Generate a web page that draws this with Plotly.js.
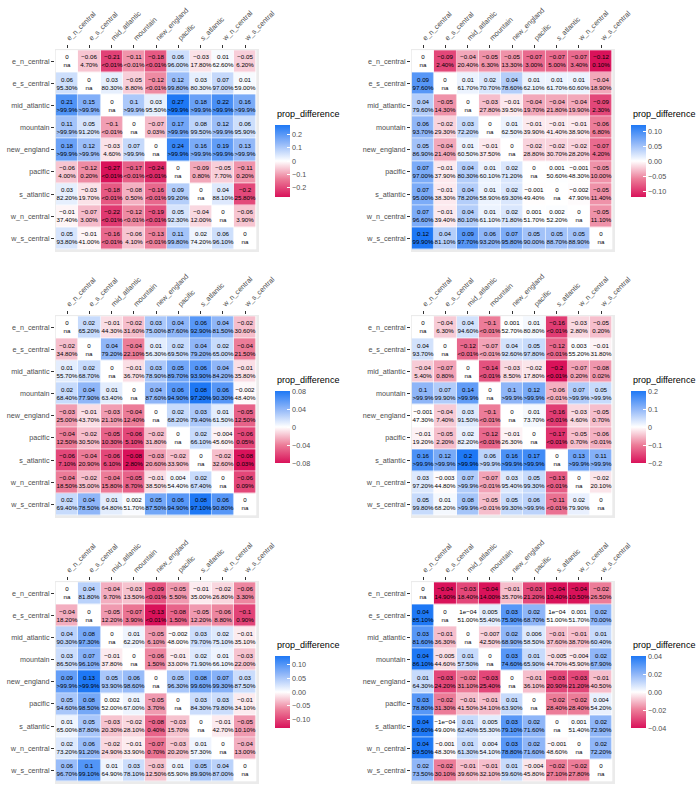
<!DOCTYPE html>
<html><head><meta charset="utf-8">
<script src="https://cdn.plot.ly/plotly-3.0.1.min.js"></script>
<style>body{margin:0;background:#fff}#c{width:700px;height:789px}</style>
</head><body><div id="c"></div>
<script>
const cats = ['e_n_central','e_s_central','mid_atlantic','mountain','new_england','pacific','s_atlantic','w_n_central','w_s_central'];

const p1_vals = [
 [0,-0.06,-0.21,-0.11,-0.18,0.06,-0.03,0.01,-0.05],
 [0.06,0,0.03,-0.05,-0.12,0.12,0.03,0.07,0.01],
 [0.21,0.15,0,0.1,0.03,0.27,0.18,0.22,0.16],
 [0.11,0.05,-0.1,0,-0.07,0.17,0.08,0.12,0.06],
 [0.18,0.12,-0.03,0.07,0,0.24,0.16,0.19,0.13],
 [-0.06,-0.12,-0.27,-0.17,-0.24,0,-0.09,-0.05,-0.11],
 [0.03,-0.03,-0.18,-0.08,-0.16,0.09,0,0.04,-0.2],
 [-0.01,-0.07,-0.22,-0.12,-0.19,0.05,-0.04,0,-0.06],
 [0.05,-0.01,-0.16,-0.06,-0.13,0.11,0.02,0.06,0]];
const p1_pct = [
 ['na','4.70%','<0.01%','<0.01%','<0.01%','96.00%','17.80%','62.60%','6.20%'],
 ['95.30%','na','80.30%','8.80%','<0.01%','99.80%','80.30%','97.00%','59.00%'],
 ['>99.9%','>99.9%','na','>99.9%','95.50%','>99.9%','>99.9%','>99.9%','>99.9%'],
 ['>99.9%','91.20%','<0.01%','na','0.03%','>99.9%','99.50%','>99.9%','95.90%'],
 ['>99.9%','>99.9%','4.60%','>99.9%','na','>99.9%','>99.9%','>99.9%','>99.9%'],
 ['4.00%','0.20%','<0.01%','<0.01%','<0.01%','na','0.80%','7.70%','0.20%'],
 ['82.20%','19.70%','<0.01%','0.50%','<0.01%','99.20%','na','88.10%','25.80%'],
 ['37.40%','3.00%','<0.01%','<0.01%','<0.01%','92.30%','12.00%','na','3.90%'],
 ['93.80%','41.00%','<0.01%','4.10%','<0.01%','99.80%','74.20%','96.10%','na']];

const p2_vals = [
 [0,-0.09,-0.04,-0.05,-0.05,-0.07,-0.07,-0.07,-0.12],
 [0.09,0,0.01,0.02,0.04,0.01,0.01,0.01,-0.04],
 [0.04,-0.05,0,-0.03,-0.01,-0.04,-0.04,-0.04,-0.09],
 [0.06,-0.02,0.03,0,0.01,-0.01,-0.01,-0.01,-0.06],
 [0.05,-0.04,0.01,-0.01,0,-0.02,-0.02,-0.02,-0.07],
 [0.07,-0.01,0.04,0.01,0.02,0,0.001,-0.001,-0.05],
 [0.07,-0.01,0.04,0.01,0.02,-0.001,0,-0.002,-0.05],
 [0.07,-0.01,0.04,0.01,0.02,0.001,0.002,0,-0.05],
 [0.12,0.04,0.09,0.06,0.07,0.05,0.05,0.05,0]];
const p2_pct = [
 ['na','2.40%','20.40%','6.30%','13.30%','3.00%','5.00%','3.40%','0.10%'],
 ['97.60%','na','61.70%','70.70%','78.60%','62.10%','61.70%','60.60%','18.90%'],
 ['79.60%','14.30%','na','27.80%','39.50%','19.70%','21.80%','19.90%','2.30%'],
 ['93.70%','29.30%','72.20%','na','62.50%','39.90%','41.40%','38.90%','6.80%'],
 ['86.90%','21.40%','60.50%','37.50%','na','28.80%','30.70%','28.20%','4.20%'],
 ['97.00%','37.90%','80.30%','60.10%','71.20%','na','50.60%','48.30%','10.00%'],
 ['95.00%','38.30%','78.20%','58.90%','69.30%','49.40%','na','47.90%','11.40%'],
 ['96.60%','39.40%','80.10%','61.10%','71.80%','51.70%','52.20%','na','11.10%'],
 ['99.90%','81.10%','97.70%','93.20%','95.80%','90.00%','88.70%','88.90%','na']];

const p3_vals = [
 [0,0.02,-0.01,-0.02,0.03,0.04,0.06,0.04,-0.02],
 [-0.02,0,0.04,-0.04,0.01,0.02,0.04,0.02,-0.04],
 [0.01,0.02,0,-0.01,0.03,0.05,0.06,0.04,-0.01],
 [0.02,0.04,0.01,0,0.04,0.06,0.08,0.06,-0.002],
 [-0.03,-0.01,-0.03,-0.04,0,0.02,0.03,0.01,-0.05],
 [-0.04,-0.02,-0.05,-0.06,-0.02,0,0.02,-0.004,-0.06],
 [-0.06,-0.04,-0.06,-0.08,-0.03,-0.02,0,-0.02,-0.08],
 [-0.04,-0.02,-0.04,-0.05,-0.01,0.004,0.02,0,-0.06],
 [0.02,0.04,0.01,0.002,0.05,0.06,0.08,0.06,0]];
const p3_pct = [
 ['na','65.20%','44.30%','31.60%','75.00%','87.60%','92.90%','81.50%','30.60%'],
 ['34.80%','na','79.20%','22.10%','56.30%','69.50%','79.20%','65.00%','21.50%'],
 ['55.70%','68.70%','na','36.70%','78.90%','89.70%','93.90%','84.20%','35.80%'],
 ['68.40%','77.90%','63.40%','na','87.60%','94.90%','97.20%','90.30%','48.40%'],
 ['25.00%','43.70%','21.10%','12.40%','na','68.20%','79.40%','61.50%','12.50%'],
 ['12.50%','30.50%','10.30%','5.10%','31.80%','na','66.10%','45.60%','0.05%'],
 ['7.10%','20.90%','6.10%','2.80%','20.60%','33.90%','na','32.60%','0.03%'],
 ['18.50%','35.00%','15.80%','8.70%','38.50%','54.40%','67.40%','na','0.09%'],
 ['69.40%','78.50%','64.80%','51.70%','87.50%','94.90%','97.10%','90.80%','na']];

const p4_vals = [
 [0,-0.04,0.04,-0.1,0.001,0.01,-0.16,-0.03,-0.05],
 [0.04,0,-0.12,-0.07,0.04,0.05,-0.12,0.003,-0.01],
 [-0.04,-0.07,0,-0.14,-0.03,-0.02,-0.2,-0.07,-0.08],
 [0.1,0.07,0.14,0,0.1,0.12,-0.06,0.07,0.05],
 [-0.001,-0.04,0.03,-0.1,0,0.01,-0.16,-0.03,-0.05],
 [-0.01,-0.05,0.02,-0.12,-0.01,0,-0.17,-0.05,-0.06],
 [0.16,0.12,0.2,0.06,0.16,0.17,0,0.13,0.11],
 [0.03,-0.003,0.07,-0.07,0.03,0.05,-0.13,0,-0.02],
 [0.05,0.01,0.08,-0.05,0.05,0.06,-0.11,0.02,0]];
const p4_pct = [
 ['na','6.30%','94.60%','<0.01%','52.70%','80.80%','<0.01%','2.80%','0.20%'],
 ['93.70%','na','<0.01%','<0.01%','92.60%','97.80%','<0.01%','55.20%','31.80%'],
 ['5.40%','0.80%','na','<0.01%','8.50%','17.80%','<0.01%','0.20%','0.02%'],
 ['>99.9%','99.90%','>99.9%','na','>99.9%','>99.9%','<0.01%','>99.9%','>99.9%'],
 ['47.30%','7.40%','91.50%','<0.01%','na','73.70%','<0.01%','4.60%','0.70%'],
 ['19.20%','2.20%','82.20%','<0.01%','26.30%','na','<0.01%','0.70%','<0.01%'],
 ['>99.9%','>99.9%','>99.9%','>99.9%','>99.9%','>99.9%','na','>99.9%','>99.9%'],
 ['97.20%','44.80%','>99.9%','<0.01%','95.40%','99.30%','<0.01%','na','20.10%'],
 ['99.80%','68.20%','>99.9%','<0.01%','99.30%','>99.9%','<0.01%','79.90%','na']];

const p5_vals = [
 [0,0.04,-0.04,-0.03,-0.09,-0.05,-0.01,-0.02,-0.06],
 [-0.04,0,-0.05,-0.07,-0.13,-0.08,-0.05,-0.06,-0.1],
 [0.04,0.08,0,0.01,-0.05,-0.002,0.03,0.02,-0.01],
 [0.03,0.07,-0.01,0,-0.06,-0.01,0.02,0.01,-0.03],
 [0.09,0.13,0.05,0.06,0,0.05,0.08,0.07,0.03],
 [0.05,0.08,0.002,0.01,-0.05,0,0.03,0.03,-0.01],
 [0.01,0.05,-0.03,-0.02,-0.08,-0.03,0,-0.01,-0.05],
 [0.02,0.06,-0.02,-0.01,-0.07,-0.03,0.01,0,-0.04],
 [0.06,0.1,0.01,0.03,-0.03,0.01,0.05,0.04,0]];
const p5_pct = [
 ['na','81.80%','9.70%','13.50%','<0.01%','5.50%','35.00%','26.80%','3.30%'],
 ['18.20%','na','12.20%','3.90%','<0.01%','1.50%','12.20%','8.80%','0.90%'],
 ['90.30%','97.30%','na','62.20%','6.10%','48.00%','79.70%','75.10%','35.10%'],
 ['86.50%','96.10%','37.80%','na','1.50%','33.00%','71.90%','66.10%','22.00%'],
 ['>99.9%','>99.9%','93.90%','98.60%','na','96.30%','99.60%','99.30%','87.50%'],
 ['94.60%','98.50%','52.00%','67.00%','3.70%','na','84.30%','79.80%','34.10%'],
 ['65.00%','87.80%','20.30%','28.10%','0.40%','15.70%','na','42.70%','10.10%'],
 ['73.20%','91.20%','24.90%','33.90%','0.70%','20.20%','57.30%','na','13.00%'],
 ['96.70%','99.10%','64.90%','78.10%','12.50%','65.90%','89.90%','87.00%','na']];

const p6_vals = [
 [0,-0.04,-0.03,-0.04,-0.01,-0.03,-0.04,-0.04,-0.02],
 [0.04,0,0.0001,0.005,0.03,0.02,0.0001,0.001,0.02],
 [0.03,-0.01,0,-0.007,0.02,0.006,-0.01,-0.01,0.01],
 [0.04,-0.005,0.01,0,0.03,0.01,-0.005,-0.004,0.02],
 [0.01,-0.03,-0.02,-0.03,0,-0.01,-0.03,-0.03,-0.01],
 [0.03,-0.02,-0.01,-0.01,0.01,0,-0.02,-0.02,0.004],
 [0.04,-0.0001,0.01,0.005,0.03,0.02,0,0.001,0.02],
 [0.04,-0.001,0.01,0.004,0.03,0.02,-0.001,0,0.02],
 [0.02,-0.02,-0.01,-0.01,0.01,-0.004,-0.02,-0.02,0]];
const p6_pct = [
 ['na','14.90%','18.40%','14.00%','35.70%','21.20%','10.40%','10.50%','26.50%'],
 ['85.10%','na','51.00%','55.40%','75.90%','68.70%','51.00%','51.70%','70.00%'],
 ['81.60%','36.30%','na','42.50%','68.90%','58.50%','37.60%','38.70%','60.40%'],
 ['86.10%','44.60%','57.50%','na','74.60%','65.90%','44.70%','45.90%','67.90%'],
 ['64.30%','24.20%','31.10%','25.40%','na','36.10%','20.90%','21.20%','40.50%'],
 ['78.80%','31.30%','41.50%','34.10%','63.90%','na','28.40%','28.40%','54.20%'],
 ['89.60%','49.00%','62.40%','55.30%','79.10%','71.60%','na','51.40%','72.90%'],
 ['89.50%','48.30%','61.30%','54.10%','78.80%','71.60%','48.60%','na','72.20%'],
 ['73.50%','30.10%','39.60%','32.10%','59.60%','45.80%','27.10%','27.80%','na']];

const legendTicks = [
 ['−0.2','−0.1','0','0.1','0.2'],
 ['−0.10','−0.05','0.00','0.05','0.10'],
 ['−0.08','−0.04','0','0.04','0.08'],
 ['−0.2','−0.1','0','0.1','0.2'],
 ['−0.10','−0.05','0.00','0.05','0.10'],
 ['−0.04','−0.02','0.00','0.02','0.04']];
const legendTickVals = [
 [-0.2,-0.1,0,0.1,0.2],[-0.1,-0.05,0,0.05,0.1],[-0.08,-0.04,0,0.04,0.08],
 [-0.2,-0.1,0,0.1,0.2],[-0.1,-0.05,0,0.05,0.1],[-0.04,-0.02,0,0.02,0.04]];
const legendTitle = 'prop_difference';

const panels = [[p1_vals,p1_pct],[p2_vals,p2_pct],[p3_vals,p3_pct],[p4_vals,p4_pct],[p5_vals,p5_pct],[p6_vals,p6_pct]];

function fmt(v){
  if (v === 0) return '0';
  let s;
  if (Math.abs(v) < 0.001){
    const m = v.toExponential(0).match(/^(-?\d)e([+-])(\d+)$/);
    s = m[1] + 'e' + m[2] + (m[3].length<2 ? '0'+m[3] : m[3]);
  } else s = String(v);
  return s.replace(/-/g,'−');
}

const W = 700, H = 789;
const FONT = 'Liberation Sans, Arial, sans-serif';
const colX = [[55,259],[411,615]];
const rowY = [[49,252],[315,518],[581,784]];
const cbX = [275, 631];
const cbCY = [161, 427, 692];
const titleY = [121, 387, 652];

const RED = '#D9125A', BLUE = '#1E78F5';
const cscale = [[0,RED],[0.25,'#EC7C98'],[0.5,'#FFFFFF'],[0.75,'#8FB6F8'],[1,BLUE]];

const data = [];
const shapes = [];
const annotations = [];
const layout = {
  width: W, height: H,
  margin: {l:0,r:0,t:0,b:0,autoexpand:false},
  paper_bgcolor: '#FFFFFF',
  plot_bgcolor: '#EBEBEB',
  font: {family: FONT, color: '#4D4D4D'},
  showlegend: false
};

panels.forEach((p, k) => {
  const vals = p[0], pct = p[1];
  const r = Math.floor(k/2), c = k%2;
  const idx = k===0 ? '' : String(k+1);
  const text = vals.map((row,i) => row.map((v,j) => fmt(v) + '<br>' + pct[i][j]));
  let mx = 0; vals.forEach(row => row.forEach(v => { mx = Math.max(mx, Math.abs(v)); }));
  data.push({
    type: 'heatmap', x: cats, y: cats, z: vals, text: text,
    texttemplate: '%{text}', textfont: {size: 6.2, color: '#000000', family: FONT},
    coloraxis: 'coloraxis' + idx, xgap: 0.6, ygap: 0.6, hoverinfo: 'skip',
    xaxis: 'x' + idx, yaxis: 'y' + idx
  });
  shapes.push({type:'rect', xref:'x'+idx, yref:'y'+idx, x0:-0.5, x1:8.5, y0:-0.5, y1:8.5,
    fillcolor:'#FFFFFF', line:{width:0}, layer:'below'});
  layout['xaxis' + idx] = {
    domain: [colX[c][0]/W, colX[c][1]/W], anchor: 'y' + idx, side: 'top',
    type: 'category', range: [-0.54, 8.62], tickangle: -45,
    ticks: 'outside', ticklen: 3, tickcolor: '#333333', tickwidth: 1,
    showgrid: false, zeroline: false, showline: false,
    tickfont: {size: 7.2, color: '#4D4D4D'}, fixedrange: true
  };
  layout['yaxis' + idx] = {
    domain: [1 - rowY[r][1]/H, 1 - rowY[r][0]/H], anchor: 'x' + idx,
    type: 'category', range: [8.62, -0.56],
    ticks: 'outside', ticklen: 3, tickcolor: '#333333', tickwidth: 1,
    showgrid: false, zeroline: false, showline: false,
    tickfont: {size: 7.2, color: '#4D4D4D'}, fixedrange: true
  };
  layout['coloraxis' + idx] = {
    colorscale: cscale, cmin: -mx, cmax: mx,
    colorbar: {
      x: cbX[c]/W, xanchor: 'left', xref: 'paper', xpad: 0, ypad: 0,
      y: 1 - cbCY[r]/H, yanchor: 'middle',
      len: 72, lenmode: 'pixels', thickness: 15, thicknessmode: 'pixels',
      outlinewidth: 0, ticks: 'inside', ticklen: 3, tickcolor: '#FFFFFF', tickwidth: 1,
      tickvals: legendTickVals[k], ticktext: legendTicks[k],
      tickfont: {size: 7.2, color: '#4D4D4D'}
    }
  };
  annotations.push({
    xref: 'paper', yref: 'paper', x: cbX[c]/W, y: 1 - titleY[r]/H,
    xanchor: 'left', yanchor: 'bottom', showarrow: false, text: legendTitle,
    font: {size: 9, color: '#000000', family: FONT}
  });
});
layout.shapes = shapes;
layout.annotations = annotations;

Plotly.newPlot('c', data, layout, {displayModeBar: false, staticPlot: true});
</script>
</body></html>
